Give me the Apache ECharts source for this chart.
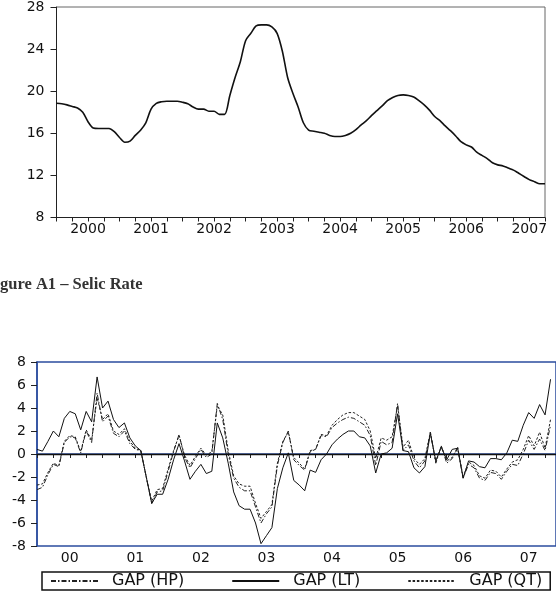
<!DOCTYPE html>
<html>
<head>
<meta charset="utf-8">
<script src="https://cdn.jsdelivr.net/npm/echarts@6/dist/echarts.min.js"></script>
<style>
  html, body { margin: 0; padding: 0; background: #fff; }
  #chart { width: 556px; height: 598px; }
</style>
</head>
<body>
<div id="chart"></div>
<script>
// months Jan 2000 .. Dec 2007
const years = [2000, 2001, 2002, 2003, 2004, 2005, 2006, 2007];
const months = [];
years.forEach(y => {
    for (let m = 1; m <= 12; m++) months.push(y + '-' + (m < 10 ? '0' + m : m));
});
const selicMonths = months.slice(0, 94);   // Jan 2000 .. Oct 2007

// Selic rate (%), monthly
const selic = [
    18.85, 18.8, 18.7, 18.55, 18.4, 18.0, 17.1, 16.5, 16.45, 16.45, 16.45, 16.15,
    15.6, 15.15, 15.25, 15.8, 16.3, 17.0, 18.3, 18.85, 19.0, 19.05, 19.05, 19.05,
    18.95, 18.8, 18.5, 18.3, 18.3, 18.1, 18.1, 17.8, 17.8, 19.6, 21.3, 22.8,
    24.8, 25.5, 26.2, 26.3, 26.3, 26.1, 25.5, 23.8, 21.3, 19.8, 18.5, 17.0,
    16.3, 16.2, 16.1, 16.0, 15.8, 15.7, 15.7, 15.8, 16.0, 16.35, 16.8, 17.2,
    17.7, 18.15, 18.6, 19.1, 19.4, 19.6, 19.65, 19.6, 19.45, 19.1, 18.7, 18.2,
    17.6, 17.2, 16.7, 16.25, 15.75, 15.2, 14.9, 14.7, 14.2, 13.9, 13.6, 13.2,
    13.0, 12.9, 12.7, 12.5, 12.2, 11.9, 11.6, 11.4, 11.2, 11.2
];

// output gaps, monthly from Jan 2000
const gapHP = [
    -3.1, -2.9, -1.8, -0.9, -1.1, 1.0, 1.5, 1.4, 0.1, 2.0, 1.0, 5.3,
    2.8, 3.3, 1.8, 1.5, 2.0, 0.9, 0.4, 0.3, -2.0, -4.3, -3.3, -3.2,
    -1.5, 0.2, 1.7, -0.3, -1.2, -0.4, 0.4, -0.3, 0.0, 4.4, 3.0, 0.0,
    -2.1, -2.9, -3.2, -3.2, -4.6, -6.0, -5.2, -4.6, -1.0, 1.0, 2.0, -0.5,
    -1.0, -1.4, 0.2, 0.4, 1.6, 1.5, 2.3, 2.7, 3.0, 3.2, 3.1, 2.8,
    2.5, 1.6, -1.0, 1.1, 0.8, 1.0, 4.4, 0.3, 0.8, -0.6, -1.2, -0.6,
    1.9, -0.8, 0.7, -0.8, -0.4, 0.5, -2.1, -0.9, -1.2, -2.1, -2.3, -1.6,
    -1.7, -2.2, -1.5, -0.9, -1.0, 0.0, 1.2, 0.4, 1.3, 0.3, 2.5
];
const gapLT = [
    0.4, 0.25, 1.1, 2.0, 1.5, 3.1, 3.7, 3.5, 2.1, 3.7, 2.8, 6.7,
    4.0, 4.6, 3.0, 2.3, 2.7, 1.4, 0.7, 0.3, -2.0, -4.3, -3.5, -3.5,
    -2.2, -0.5, 0.9, -0.6, -2.2, -1.5, -0.9, -1.7, -1.5, 2.7, 1.4, -0.8,
    -3.3, -4.5, -4.8, -4.8, -6.0, -7.8, -7.1, -6.4, -3.0, -1.2, 0.1, -2.3,
    -2.7, -3.2, -1.4, -1.6, -0.5, 0.0, 0.8, 1.3, 1.7, 2.0, 2.0, 1.5,
    1.4, 0.7, -1.65, 0.0, 0.1, 0.5, 3.5, 0.3, 0.2, -1.2, -1.65, -1.1,
    1.8, -0.6, 0.6, -0.5, 0.4, 0.5, -2.1, -0.6, -0.7, -1.1, -1.2, -0.4,
    -0.4, -0.5, 0.1, 1.2, 1.1, 2.5, 3.6, 3.1, 4.3, 3.4, 6.5
];
const gapQT = [
    -2.7, -2.6, -1.6, -0.8, -1.0, 1.1, 1.6, 1.5, 0.2, 2.1, 1.2, 4.9,
    3.0, 3.5, 2.0, 1.7, 2.2, 1.1, 0.5, 0.3, -2.0, -4.1, -3.1, -3.0,
    -1.3, 0.3, 1.6, -0.1, -1.0, -0.2, 0.5, -0.1, 0.2, 4.2, 3.4, 0.3,
    -1.9, -2.6, -2.8, -2.8, -4.3, -5.6, -5.0, -4.4, -0.8, 1.1, 1.9, -0.3,
    -0.8, -1.3, 0.3, 0.4, 1.7, 1.6, 2.5, 3.0, 3.4, 3.6, 3.6, 3.3,
    3.0, 2.0, -0.4, 1.4, 1.2, 1.5, 4.2, 0.6, 1.2, -0.4, -0.9, -0.4,
    1.9, -0.7, 0.7, -0.6, -0.3, 0.6, -2.0, -0.7, -1.0, -1.9, -2.1, -1.4,
    -1.5, -2.0, -1.3, -0.7, -0.5, 0.4, 1.6, 0.7, 1.9, 0.5, 3.0
];

const legendNames = ['GAP (HP)', 'GAP (LT)', 'GAP (QT)'];

const FONT = 'DejaVu Sans';
const BLUE = '#2b4c9e';

let chart = echarts.init(document.getElementById('chart'), null, { renderer: 'canvas' });

// ticks every quarter, labels in the middle of each year
const quarterTick = (idx, val) => Number(val.slice(5)) % 3 === 1;
const midYear = (idx, val) => val.slice(5) === '07';

let option = {
    animation: false,
    backgroundColor: '#fff',
    textStyle: { fontFamily: FONT },
    grid: [
        { left: 56.5, top: 5, width: 488.5, height: 212.5, show: true, borderColor: '#666', borderWidth: 1 },
        { left: 37, top: 362, width: 526, height: 184, show: true, borderColor: BLUE, borderWidth: 1.5 }
    ],
    xAxis: [
        {
            type: 'category', gridIndex: 0, data: selicMonths, boundaryGap: false,
            axisLine: { lineStyle: { color: '#222', width: 1 } },
            axisTick: { interval: quarterTick, length: 4, lineStyle: { color: '#222' } },
            axisLabel: { interval: midYear, formatter: v => v.slice(0, 4), fontSize: 14, color: '#111', margin: 5 },
            splitLine: { show: false }
        },
        {
            type: 'category', gridIndex: 1, data: months, boundaryGap: false,
            axisLine: { lineStyle: { color: BLUE, width: 1.5 } },
            axisTick: { interval: quarterTick, length: 4, lineStyle: { color: '#222' } },
            axisLabel: { interval: midYear, formatter: v => v.slice(2, 4), fontSize: 14, color: '#111', margin: 5 },
            splitLine: { show: false }
        }
    ],
    yAxis: [
        {
            type: 'value', gridIndex: 0, min: 8, max: 28, interval: 4,
            axisLine: { show: true, lineStyle: { color: '#222' } },
            axisTick: { show: true, length: 6, lineStyle: { color: '#222' } },
            axisLabel: { fontSize: 14, color: '#111', margin: 12 },
            splitLine: { show: false }
        },
        {
            type: 'value', gridIndex: 1, min: -8, max: 8, interval: 2,
            axisLine: { show: true, lineStyle: { color: BLUE, width: 1.5 } },
            axisTick: { show: true, length: 6, lineStyle: { color: '#222' } },
            axisLabel: { fontSize: 14, color: '#111', margin: 11 },
            splitLine: { show: false }
        }
    ],
    legend: {
        data: legendNames,
        left: 42, top: 572,
        orient: 'horizontal',
        borderColor: '#111', borderWidth: 1.5, borderRadius: 0,
        padding: [1, 8],
        itemWidth: 47, itemHeight: 12, itemGap: 47,
        itemStyle: { opacity: 0 },
        textStyle: { fontFamily: FONT, fontSize: 16, color: '#111', padding: [0, 14, 0, 9] }
    },
    graphic: [{
        type: 'text', left: 0, top: 276,
        style: { text: 'gure A1 – Selic Rate', font: 'bold 16.5px "Liberation Serif"', fill: '#333' }
    }],
    series: [
        {
            name: 'Selic', type: 'line', xAxisIndex: 0, yAxisIndex: 0,
            data: selic, symbol: 'none', smooth: 0.3,
            lineStyle: { color: '#111', width: 1.6 }
        },
        {
            name: 'GAP (HP)', type: 'line', xAxisIndex: 1, yAxisIndex: 1,
            data: gapHP, symbol: 'none',
            itemStyle: { color: '#222' },
            lineStyle: { color: '#222', width: 1, type: [5, 2, 1.5, 2] }
        },
        {
            name: 'GAP (LT)', type: 'line', xAxisIndex: 1, yAxisIndex: 1,
            data: gapLT, symbol: 'none',
            itemStyle: { color: '#111' },
            lineStyle: { color: '#111', width: 1 },
            markLine: {
                silent: true, symbol: 'none', label: { show: false },
                lineStyle: { color: '#111', width: 1.3, type: 'solid' },
                data: [{ yAxis: 0 }]
            }
        },
        {
            name: 'GAP (QT)', type: 'line', xAxisIndex: 1, yAxisIndex: 1,
            data: gapQT, symbol: 'none',
            itemStyle: { color: '#222' },
            lineStyle: { color: '#222', width: 1, type: [2.5, 1.8] }
        }
    ]
};
chart.setOption(option);
</script>
</body>
</html>
